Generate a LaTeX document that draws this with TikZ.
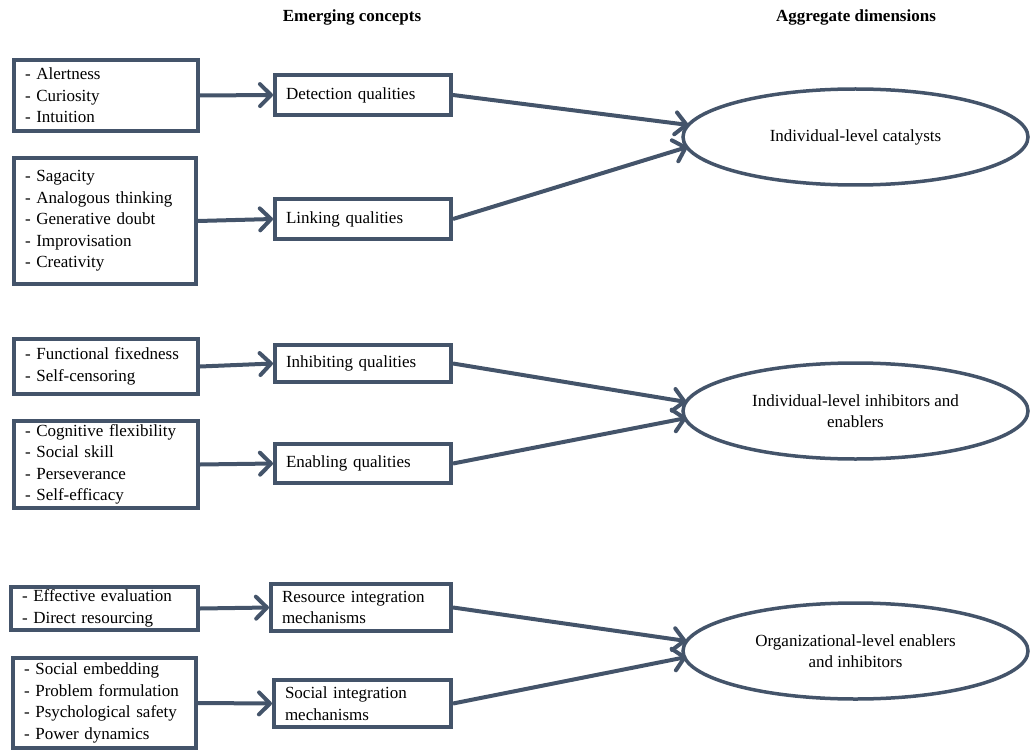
\documentclass[tikz,border=0pt]{standalone}
\usepackage{fontspec}
\setmainfont{Liberation Serif}
\usetikzlibrary{arrows.meta,shapes.geometric,calc}
\definecolor{slate}{RGB}{68,84,106}
\begin{document}
\begin{tikzpicture}[x=1pt,y=-1pt,
  every node/.style={font=\fontsize{17}{21.5}\selectfont},
  boxnode/.style={draw=slate, line width=4pt, rectangle, align=left, inner xsep=11pt, inner ysep=1pt, anchor=west},
  ellnode/.style={draw=slate, line width=3.5pt, ellipse, inner sep=0pt, minimum width=345pt, minimum height=96pt, align=center},
  headnode/.style={font=\fontsize{17}{21.5}\selectfont\bfseries},
  arr/.style={draw=slate, line width=4pt, -{Straight Barb[length=11pt,width=22pt,round]}}]
\useasboundingbox (0,0) rectangle (1032,751);

\node[headnode] (h1) at (352,17) {Emerging concepts};
\node[headnode] (h2) at (856,17) {Aggregate dimensions};

% group 1
\node[boxnode, text width=162pt, minimum height=71pt] (a1) at (12,95.5) {- Alertness\\- Curiosity\\- Intuition};
\node[boxnode, text width=160pt, minimum height=126pt] (a2) at (12,221) {- Sagacity\\- Analogous thinking\\- Generative doubt\\- Improvisation\\- Creativity};
\node[boxnode, text width=154pt, minimum height=40pt] (det) at (273,95) {Detection qualities};
\node[boxnode, text width=154pt, minimum height=40pt] (lnk) at (273,219) {Linking qualities};
\node[ellnode] (e1) at (855.5,137) {Individual-level catalysts};

% group 2
\node[boxnode, text width=162pt, minimum height=55pt] (b1) at (12,366.5) {- Functional fixedness\\- Self-censoring};
\node[boxnode, text width=162pt, minimum height=87pt] (b2) at (12,464.5) {- Cognitive flexibility\\- Social skill\\- Perseverance\\- Self-efficacy};
\node[boxnode, text width=154pt, minimum height=37pt] (inh) at (273,363.5) {Inhibiting qualities};
\node[boxnode, text width=154pt, minimum height=39pt] (ena) at (273,463.5) {Enabling qualities};
\node[ellnode] (e2) at (855.5,411) {Individual-level inhibitors and\\enablers};

% group 3
\node[boxnode, text width=165pt, minimum height=43pt] (c1) at (9,608.5) {- Effective evaluation\\- Direct resourcing};
\node[boxnode, text width=161pt, minimum height=90pt] (c2) at (11,703) {- Social embedding\\- Problem formulation\\- Psychological safety\\- Power dynamics};
\node[boxnode, text width=158pt, minimum height=47pt] (res) at (269,607.5) {Resource integration\\mechanisms};
\node[boxnode, text width=155pt, minimum height=47pt] (soc) at (272,703.5) {Social integration\\mechanisms};
\node[ellnode] (e3) at (855.5,651) {Organizational-level enablers\\and inhibitors};

% arrow end points on ellipses
\coordinate (e1a) at ($(e1.center)+(-167,-12)$);
\coordinate (e1b) at ($(e1.center)+(-168,10)$);
\coordinate (e2a) at ($(e2.center)+(-169,-9)$);
\coordinate (e2b) at ($(e2.center)+(-169,7)$);
\coordinate (e3a) at ($(e3.center)+(-169,-10)$);
\coordinate (e3b) at ($(e3.center)+(-169,6)$);

\draw[arr] (a1.east) -- (det.west);
\draw[arr] (a2.east) -- (lnk.west);
\draw[arr] (b1.east) -- (inh.west);
\draw[arr] (b2.east) -- (ena.west);
\draw[arr] (c1.east) -- (res.west);
\draw[arr] (c2.east) -- (soc.west);

\draw[arr] (det.east) -- (e1a);
\draw[arr] (lnk.east) -- (e1b);
\draw[arr] (inh.east) -- (e2a);
\draw[arr] (ena.east) -- (e2b);
\draw[arr] (res.east) -- (e3a);
\draw[arr] (soc.east) -- (e3b);
\end{tikzpicture}
\end{document}
